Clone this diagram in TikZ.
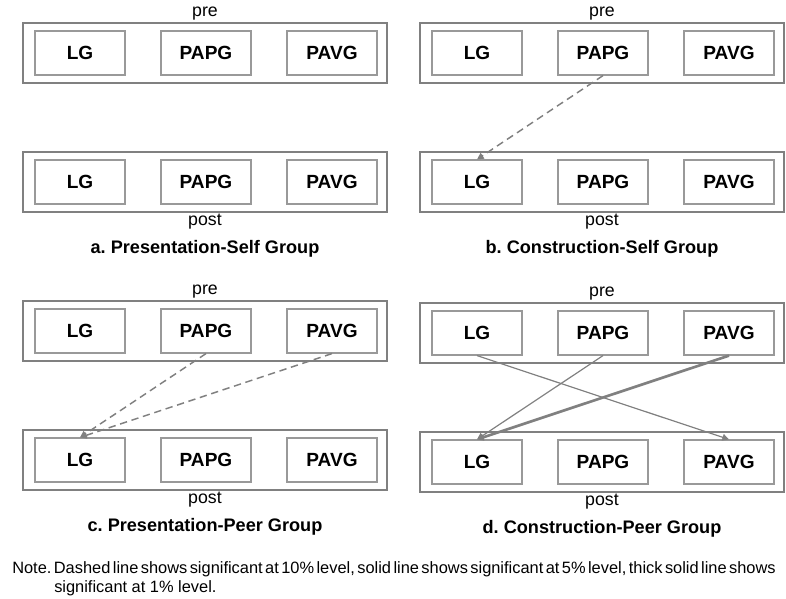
\documentclass[tikz,border=0pt]{standalone}
\usepackage{fontspec}
\setmainfont{Liberation Sans}
\usetikzlibrary{arrows.meta}

\begin{document}
\frenchspacing
\begin{tikzpicture}[x=0.75pt,y=-0.75pt,
  frame/.style={draw=gray, line width=1.3pt, minimum width=273pt, minimum height=45pt, inner sep=0pt},
  cell/.style={draw=gray!80, line width=0.9pt, fill=white, minimum width=67.5pt, minimum height=33pt, inner sep=0pt, font=\fontsize{14.3}{16}\selectfont\bfseries},
  lab/.style={inner sep=1pt, font=\fontsize{13.3}{15}\selectfont},
  title/.style={font=\fontsize{13.6}{16}\selectfont\bfseries},
  sigten/.style={draw=gray, line width=1.1pt, dash pattern=on 5.5pt off 3.5pt, -{Triangle[length=5pt,width=5pt]}},
  sigfive/.style={draw=gray, line width=0.9pt, -{Triangle[length=5pt,width=5pt]}},
  sigone/.style={draw=gray, line width=2pt, -{Triangle[length=5pt,width=5pt]}}]
\useasboundingbox (0,0) rectangle (786,599);

% four panels: pre row on top, post row below
\foreach \p/\dx/\dy/\name in {a/0/0/a. Presentation-Self Group, b/397/0/b. Construction-Self Group,
    c/0/278/c. Presentation-Peer Group, d/397/280/d. Construction-Peer Group}{
  \node [frame] (\p-pre) at (205+\dx,53+\dy) {};
  \node [frame] (\p-post) at (205+\dx,182+\dy) {};
  \foreach \g/\gx in {LG/80,PAPG/206,PAVG/332}{
    \node [cell] (\p-pre\g) at (\gx+\dx,53+\dy) {\g};
    \node [cell] (\p-post\g) at (\gx+\dx,182+\dy) {\g};
  }
  \node [lab, anchor=south] (\p-prelab) at (\p-pre.north) {pre};
  \node [lab, anchor=north] (\p-postlab) at (\p-post.south) {post};
  \node [title] (\p-title) at (205+\dx,249+\dy) {\name};
}

% significant paths
\draw [sigten] (b-prePAPG.south) -- (b-postLG.north);
\draw [sigten] (c-prePAPG.south) -- (c-postLG.north);
\draw [sigten] (c-prePAVG.south) -- (c-postLG.north);
\draw [sigfive] (d-preLG.south) -- (d-postPAVG.north);
\draw [sigfive] (d-prePAPG.south) -- (d-postLG.north);
\draw [sigone] (d-prePAVG.south) -- (d-postLG.north);

\node [anchor=north west, inner sep=0pt, align=left, font=\fontsize{12.3}{14.2}\selectfont] (note) at (12,561)
  {\spaceskip=0.15em\relax Note. Dashed line shows significant at 10\% level, solid line shows significant at 5\% level, thick solid line shows\\
   \hspace*{31.5pt}significant at 1\% level.};
\end{tikzpicture}
\end{document}
